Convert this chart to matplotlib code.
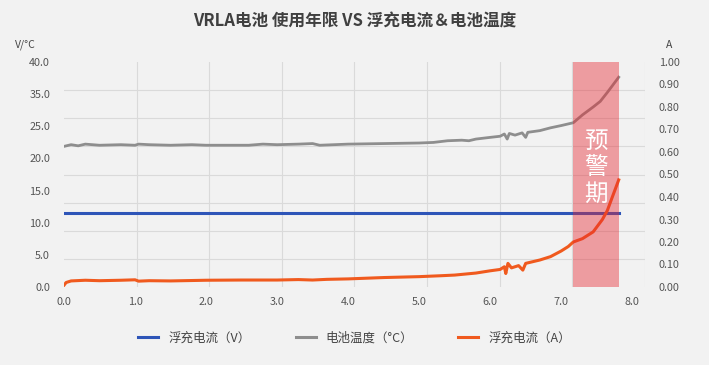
import matplotlib
matplotlib.use('Agg')
import matplotlib.pyplot as plt
from matplotlib.lines import Line2D
import numpy as np

plt.rcParams['font.family'] = ['Noto Sans CJK SC', 'DejaVu Sans']

# years of use (x) and readings
volt_x = [0.0, 7.81]
volt_y = [13.2, 13.2]

temp_x = [0.0, 0.1, 0.2, 0.3, 0.5, 0.8, 1.0, 1.05, 1.2, 1.5, 1.8, 2.0, 2.3, 2.6,
          2.8, 3.0, 3.3, 3.5, 3.6, 4.0, 4.5, 5.0, 5.2, 5.4, 5.6, 5.7, 5.8, 6.0,
          6.14, 6.2, 6.24, 6.27, 6.35, 6.45, 6.5, 6.53, 6.7, 6.85, 7.0, 7.17,
          7.3, 7.45, 7.55, 7.65, 7.81]
temp_y = [25.0, 25.3, 25.1, 25.4, 25.2, 25.3, 25.2, 25.4, 25.3, 25.2, 25.3, 25.2, 25.2, 25.2,
          25.4, 25.3, 25.4, 25.5, 25.2, 25.4, 25.5, 25.6, 25.7, 26.0, 26.1, 26.0, 26.3, 26.6,
          26.8, 27.2, 26.3, 27.3, 27.0, 27.4, 26.6, 27.5, 27.8, 28.3, 28.7, 29.2,
          30.6, 32.0, 33.0, 34.6, 37.3]

amp_x = [0.0, 0.03, 0.1, 0.3, 0.5, 0.8, 1.0, 1.05, 1.2, 1.5, 2.0, 2.5, 3.0, 3.3,
         3.5, 3.7, 4.0, 4.5, 5.0, 5.3, 5.5, 5.8, 6.0, 6.14, 6.2, 6.22, 6.25, 6.3,
         6.4, 6.46, 6.5, 6.7, 6.85, 7.0, 7.1, 7.17, 7.3, 7.45, 7.58, 7.65, 7.72, 7.81]
amp_y = [0.008, 0.02, 0.027, 0.03, 0.028, 0.03, 0.032, 0.026, 0.028, 0.027, 0.03, 0.031, 0.031, 0.033,
         0.031, 0.034, 0.036, 0.042, 0.046, 0.05, 0.053, 0.062, 0.072, 0.078, 0.09, 0.06, 0.105, 0.085,
         0.095, 0.075, 0.105, 0.12, 0.135, 0.16, 0.18, 0.2, 0.215, 0.245, 0.30, 0.34, 0.40, 0.476]

warn_start, warn_end = 7.17, 7.82

left_labels = ['0.0', '5.0', '10.0', '15.0', '20.0', '25.0', '35.0', '40.0']
right_labels = ['%.2f' % v for v in np.arange(0, 1.01, 0.1)]
x_labels = ['%.1f' % v for v in range(9)]

bg = '#f2f2f2'
fig = plt.figure(figsize=(7.09, 3.65), dpi=100, facecolor=bg)
ax = fig.add_axes([64/709, 1-287/365, 581/709, 225/365], facecolor=bg)
ax2 = ax.twinx()

ax.set_xlim(0, 8.18)
ax.set_ylim(0, 40)
ax2.set_ylim(0, 1)

ax.set_xticks(range(9))
ax.set_xticklabels(x_labels)
ax.set_xticks(np.linspace(0, 8.18, 9), minor=True)
ax.set_yticks(np.linspace(0, 40, 8))
ax.set_yticklabels(left_labels)
ax.set_yticks(np.arange(0, 41, 5), minor=True)
ax2.set_yticks(np.arange(0, 1.01, 0.1))
ax2.set_yticklabels(right_labels)

ax.grid(which='minor', color='#dadada', lw=0.8)
ax.grid(which='major', visible=False)
for a in (ax, ax2):
    for s in a.spines.values():
        s.set_visible(False)
    a.tick_params(which='both', length=0, labelsize=7.8, colors='#555555')
ax.tick_params(axis='x', pad=7)
ax.tick_params(axis='y', pad=10)
ax2.tick_params(axis='y', pad=10)

ax.plot(volt_x, volt_y, color='#2e55b8', lw=2.2, zorder=3)
ax.plot(temp_x, temp_y, color='#8e8e8e', lw=2.0, zorder=3)
ax2.plot(amp_x, amp_y, color='#f05a1e', lw=2.2, zorder=3)

ax2.axvspan(warn_start, warn_end, color='#e8262f', alpha=0.42, lw=0, zorder=5)
ax2.text((warn_start + warn_end) / 2, 0.53, '预\n警\n期', color='white', fontsize=17,
         ha='center', va='center', linespacing=1.2, zorder=6)

fig.text(0.5, 1-22/365, 'VRLA电池 使用年限 VS 浮充电流＆电池温度', ha='center', va='center',
         fontsize=12, fontweight='bold', color='#404040')
fig.text(25/709, 1-45/365, 'V/°C', ha='center', va='center', fontsize=7.5, color='#444444')
fig.text(669/709, 1-45/365, 'A', ha='center', va='center', fontsize=7.5, color='#444444')

handles = [Line2D([], [], color='#2e55b8', lw=2.2),
           Line2D([], [], color='#8e8e8e', lw=2.2),
           Line2D([], [], color='#f05a1e', lw=2.2)]
names = ['浮充电流（V）', '电池温度（°C）', '浮充电流（A）']
fig.legend(handles, names, loc='center', bbox_to_anchor=(0.5, 1-338/365), ncol=3,
           frameon=False, fontsize=9, handlelength=1.6, columnspacing=3.6,
           labelcolor='#444444')

plt.savefig('out.png', dpi=100, facecolor=bg)
